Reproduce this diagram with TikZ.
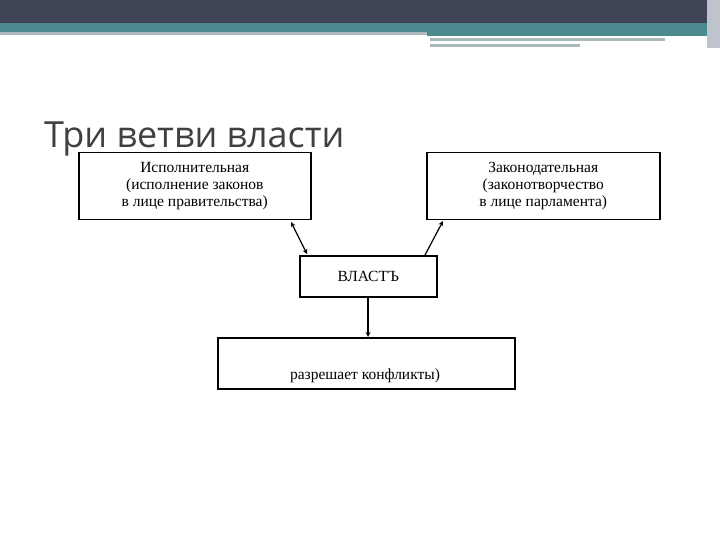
\documentclass[tikz,border=0pt]{standalone}
\usepackage{fontspec}
\setmainfont{Liberation Serif}
\newfontfamily\titlefont{Open Sans}
\begin{document}
\begin{tikzpicture}[x=1pt,y=-1pt,
  bx/.style={draw,line width=1.5pt,inner sep=0pt},
  tx/.style={font=\fontsize{15.5}{17}\selectfont,align=center},
  ar/.style={-stealth,line width=1.2pt}]
\useasboundingbox (0,0) rectangle (720,540);
\fill[white] (0,0) rectangle (720,540);
\fill[fill={rgb,255:red,63;green,69;blue,86}] (0,0) rectangle (720,23);
\fill[fill={rgb,255:red,74;green,138;blue,142}] (0,23) rectangle (707,32);
\fill[fill={rgb,255:red,170;green,185;blue,190}] (0,32) rectangle (427,35);
\fill[fill={rgb,255:red,74;green,138;blue,142}] (427,32) rectangle (707,36);
\fill[fill={rgb,255:red,170;green,185;blue,190}] (430,38) rectangle (665,41);
\fill[fill={rgb,255:red,170;green,185;blue,190}] (430,44) rectangle (580,47);
\fill[fill={rgb,255:red,190;green,195;blue,205}] (707,0) rectangle (720,48);
\node[anchor=base west,inner sep=0pt,text={rgb,255:red,64;green,64;blue,64},font=\titlefont\fontsize{36}{38}\selectfont] (title) at (44,148) {Три ветви власти};
\node[bx,minimum width=232,minimum height=67,anchor=north west] (ex) at (78,152) {};
\node[tx] at (ex.center) {Исполнительная\\(исполнение законов\\в лице правительства)};
\node[bx,minimum width=233,minimum height=67,anchor=north west] (le) at (426,152) {};
\node[tx] at (le.center) {Законодательная\\(законотворчество\\в лице парламента)};
\node[bx,minimum width=137,minimum height=41,anchor=north west,tx] (po) at (299,255) {ВЛАСТЪ};
\node[bx,minimum width=297,minimum height=51,anchor=north west] (ju) at (217,337) {};
\node[tx,anchor=base] (jt) at (365,379) {разрешает конфликты)};
\coordinate (a1) at (291,222);
\coordinate (a2) at (307,254);
\draw[stealth-stealth,line width=1.2pt] (a1) -- (a2);
\coordinate (b1) at (425,255);
\coordinate (b2) at (443,221);
\draw[ar] (b1) -- (b2);
\draw[ar] (po.south -| 368,0) -- (ju.north -| 368,0);
\end{tikzpicture}
\end{document}
